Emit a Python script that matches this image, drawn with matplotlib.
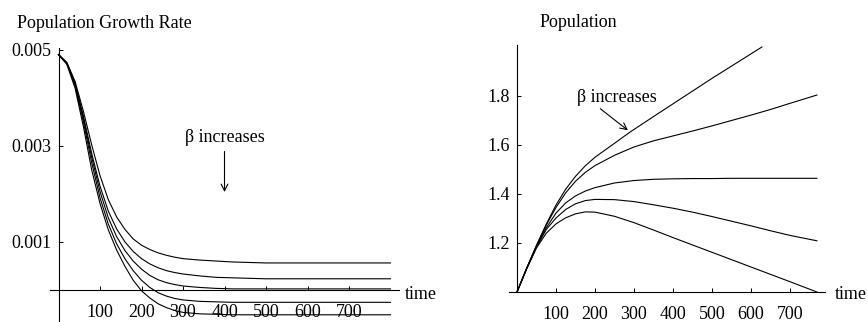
import matplotlib
matplotlib.use("Agg")
import matplotlib.pyplot as plt

plt.rcParams['font.family'] = ['Liberation Serif', 'DejaVu Serif']
plt.rcParams['font.size'] = 13

# growth rate curves (left), one per beta value, top to bottom
t_rate = [0, 20, 40, 60, 80, 100, 120, 140, 160, 180, 200, 220, 240, 260,
          280, 300, 340, 380, 420, 460, 500, 600, 700, 800]
rate_a = [0.0049, 0.00474, 0.00434, 0.00372, 0.00302, 0.00238, 0.00188, 0.00152,
          0.00126, 0.00106, 0.00093, 0.00084, 0.00077, 0.00072, 0.00068, 0.00065,
          0.00062, 0.0006, 0.00058, 0.00057, 0.00056, 0.00056, 0.00056, 0.00056]
rate_b = [0.0049, 0.00473, 0.0043, 0.00362, 0.00284, 0.00216, 0.00164, 0.00127,
          0.001, 0.0008, 0.00065, 0.00054, 0.00046, 0.0004, 0.00036, 0.00033,
          0.00029, 0.00026, 0.00025, 0.00024, 0.00023, 0.00023, 0.00023, 0.00023]
rate_c = [0.0049, 0.00472, 0.00428, 0.00357, 0.00276, 0.00205, 0.0015, 0.00111,
          0.00082, 0.0006, 0.00043, 0.0003, 0.00021, 0.00015, 0.00011, 0.00008,
          0.00005, 0.00003, 0.00002, 0.00002, 0.00002, 0.00002, 0.00002, 0.00002]
rate_d = [0.0049, 0.00471, 0.00425, 0.0035, 0.00265, 0.00192, 0.00137, 0.00096,
          0.00065, 0.0004, 0.0002, 0.00005, -0.00006, -0.00013, -0.00018, -0.00021,
          -0.00024, -0.00025, -0.00026, -0.00026, -0.00026, -0.00026, -0.00026, -0.00026]
rate_e = [0.0049, 0.0047, 0.0042, 0.0034, 0.0025, 0.0018, 0.00125, 0.00083,
          0.00049, 0.0002, -0.00002, -0.00017, -0.00029, -0.00037, -0.00043, -0.00047,
          -0.0005, -0.00051, -0.00052, -0.00052, -0.00052, -0.00052, -0.00052, -0.00052]

# population curves (right)
t_pop_a = [0, 25, 50, 75, 100, 125, 150, 175, 200, 250, 290, 350, 400, 450,
           500, 550, 600, 628]
pop_a = [1.0, 1.098, 1.19, 1.277, 1.355, 1.42, 1.472, 1.515, 1.55, 1.607, 1.653,
         1.716, 1.768, 1.82, 1.872, 1.922, 1.972, 2.0]
t_pop = [0, 25, 50, 75, 100, 125, 150, 175, 200, 250, 300, 350, 400, 450,
         500, 550, 600, 650, 700, 769]
pop_b = [1.0, 1.098, 1.19, 1.273, 1.345, 1.405, 1.452, 1.488, 1.516, 1.558, 1.592,
         1.617, 1.637, 1.657, 1.678, 1.7, 1.722, 1.745, 1.77, 1.804]
pop_c = [1.0, 1.097, 1.186, 1.262, 1.322, 1.364, 1.392, 1.412, 1.426, 1.445, 1.455,
         1.46, 1.462, 1.463, 1.463, 1.464, 1.464, 1.464, 1.464, 1.464]
pop_d = [1.0, 1.096, 1.183, 1.255, 1.302, 1.337, 1.36, 1.373, 1.378, 1.377, 1.369,
         1.356, 1.342, 1.326, 1.308, 1.289, 1.27, 1.25, 1.231, 1.209]
pop_e = [1.0, 1.095, 1.18, 1.24, 1.278, 1.303, 1.319, 1.327, 1.326, 1.309,
         1.283, 1.253, 1.222, 1.192, 1.162, 1.132, 1.102, 1.072, 1.042, 1.0]

time_ticks = [100, 200, 300, 400, 500, 600, 700]
rate_ticks = [0.001, 0.003, 0.005]
rate_labels = ['0.001', '0.003', '0.005']
pop_ticks = [1.2, 1.4, 1.6, 1.8]
pop_labels = ['1.2', '1.4', '1.6', '1.8']

fig = plt.figure(figsize=(8.68, 3.22), dpi=100)


def style_axes(ax, ybounds, xbounds, xaxis_at):
    ax.spines['top'].set_visible(False)
    ax.spines['right'].set_visible(False)
    ax.spines['left'].set_position(('data', 0))
    ax.spines['bottom'].set_position(('data', xaxis_at))
    ax.spines['left'].set_bounds(*ybounds)
    ax.spines['bottom'].set_bounds(*xbounds)
    for s in ('left', 'bottom'):
        ax.spines[s].set_linewidth(0.8)
    ax.tick_params(direction='in', length=3, width=0.7, labelsize=13)
    ax.tick_params(axis='x', pad=10)
    ax.tick_params(axis='y', pad=5)
    ax.patch.set_visible(False)


# left panel
ax1 = fig.add_axes([50.2 / 868, 0.0, 348.6 / 868, 274.1 / 322])
for r in (rate_a, rate_b, rate_c, rate_d, rate_e):
    ax1.plot(t_rate, r, color='black', lw=0.8)
ax1.set_xlim(-20, 820)
ax1.set_ylim(-0.00067, 0.00504)
style_axes(ax1, (-0.00067, 0.00504), (-20, 820), 0)
ax1.set_xticks(time_ticks)
ax1.set_xticklabels([str(v) for v in time_ticks])
ax1.set_yticks(rate_ticks)
ax1.set_yticklabels(rate_labels)
ax1.text(835, -0.00019, 'time', ha='left', va='baseline')
ax1.text(400, 0.00308, u'\u03b2 increases', ha='center', va='baseline')
ax1.annotate('', xy=(400, 0.00198), xytext=(400, 0.00294),
             arrowprops=dict(arrowstyle='->', lw=0.8, color='black', mutation_scale=12))

# right panel
ax2 = fig.add_axes([509.2 / 868, 20.2 / 322, 315.9 / 868, 257.25 / 322])
ax2.plot(t_pop_a, pop_a, color='black', lw=0.8)
for p in (pop_b, pop_c, pop_d, pop_e):
    ax2.plot(t_pop, p, color='black', lw=0.8)
ax2.set_xlim(-20, 790)
ax2.set_ylim(0.96, 2.01)
style_axes(ax2, (1.0, 2.008), (-20, 790), 1.0)
ax2.set_xticks(time_ticks)
ax2.set_xticklabels([str(v) for v in time_ticks])
ax2.set_yticks(pop_ticks)
ax2.set_yticklabels(pop_labels)
ax2.text(815, 0.971, 'time', ha='left', va='baseline')
ax2.text(154, 1.777, u'\u03b2 increases', ha='left', va='baseline')
ax2.annotate('', xy=(290, 1.653), xytext=(208, 1.755),
             arrowprops=dict(arrowstyle='->', lw=0.8, color='black', mutation_scale=12))

fig.text(17 / 868, 1 - 28 / 322, 'Population Growth Rate', ha='left', va='baseline')
fig.text(540 / 868, 1 - 27 / 322, 'Population', ha='left', va='baseline')

fig.savefig('out.png', dpi=100)
